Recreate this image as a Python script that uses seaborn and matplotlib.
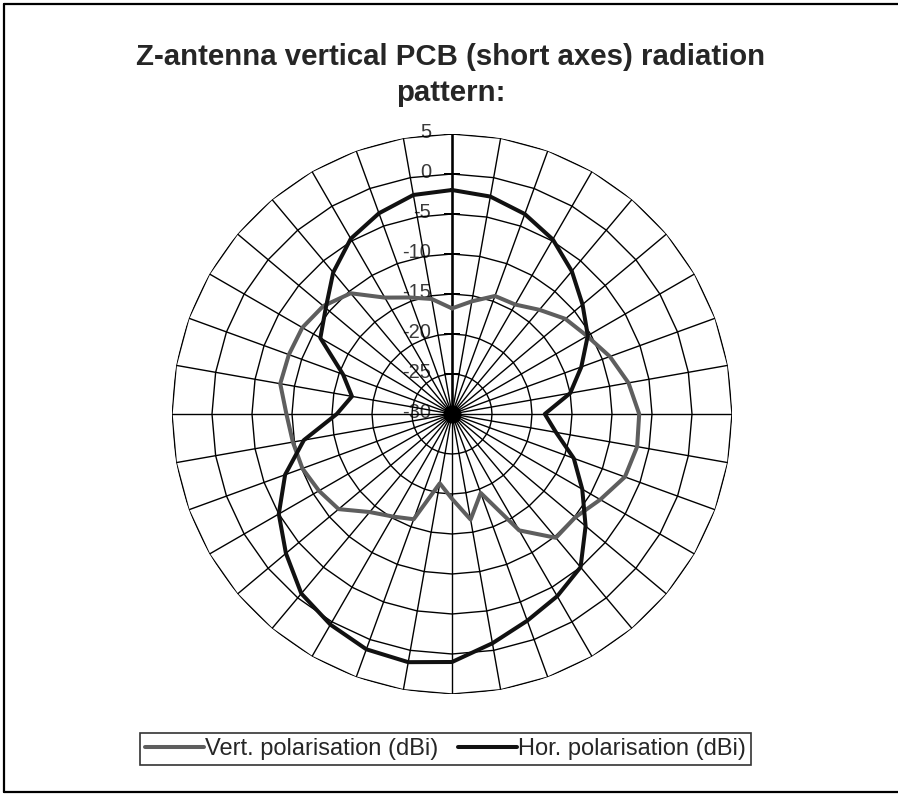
import numpy as np
import pandas as pd
import matplotlib.pyplot as plt
from matplotlib.lines import Line2D
import seaborn as sns

sns.set_style("white")
plt.rcParams['font.family'] = ['Liberation Sans', 'DejaVu Sans']

# Data (dBi every 10 deg, clockwise from top)
angles_deg = list(range(0, 360, 10))
vert_pol = [-16.8, -15.7, -14.3, -14.2, -13.0, -11.5, -10.5, -9.0, -7.6, -6.6,
            -6.5, -7.0, -8.6, -9.9, -9.8, -13.2, -19.5, -16.6, -19.4, -21.2,
            -16.0, -15.2, -14.0, -11.5, -10.8, -10.1, -9.8, -9.3, -8.2, -8.3,
            -8.4, -9.0, -10.3, -13.2, -14.5, -15.4]
hor_pol = [-2.0, -2.4, -3.4, -4.8, -6.7, -8.7, -10.4, -12.8, -15.0, -18.4,
           -16.8, -13.8, -11.2, -8.2, -5.0, -3.7, -2.5, -0.9, 1.0, 1.5,
           1.3, 0.4, -0.7, -2.9, -5.0, -7.8, -11.2, -15.6, -17.3, -15.5,
           -11.0, -9.4, -6.9, -4.7, -3.3, -2.2]
series_names = ['Vert. polarisation (dBi)', 'Hor. polarisation (dBi)']
r_ticks = [5, 0, -5, -10, -15, -20, -25, -30]

# long table, loops closed
theta = np.deg2rad(angles_deg + [360])
rows = []
for name, vals in zip(series_names, [vert_pol, hor_pol]):
    for t, v in zip(theta, vals + [vals[0]]):
        rows.append({'theta': t, 'dBi': v, 'series': name})
df = pd.DataFrame(rows)

fig = plt.figure(figsize=(8.98, 7.94), dpi=100)
ax = fig.add_axes([172/898, 100/794, 560/898, 560/794], projection='polar')
ax.set_theta_zero_location('N')
ax.set_theta_direction(-1)
ax.set_ylim(-30, 5)
ax.grid(False)
ax.spines['polar'].set_visible(False)
ax.set_xticks([])
ax.set_yticks([])
ax.patch.set_alpha(0)

# radar grid: polygon rings + spokes
for v in r_ticks[:-1]:
    ax.plot(theta, [v] * len(theta), color='black', lw=1.0, zorder=2)
for a in np.deg2rad(angles_deg):
    ax.plot([a, a], [-30, 5], color='black', lw=1.0, zorder=2)
ax.plot([0, 0], [-30, 5], color='black', lw=1.8, zorder=2)
ax.plot([0] * len(r_ticks), r_ticks, ls='none', marker='_', ms=11,
        mew=1.4, color='black', zorder=2)
ax.plot([0], [-30], marker='o', ms=12, color='black', zorder=2)

for v in r_ticks:
    ax.annotate(str(v), xy=(0, v), xytext=(-15, 1), textcoords='offset points',
                ha='right', va='center', fontsize=14.5, color='#3a3a3a', zorder=1)

palette = {series_names[0]: '#5e5e5e', series_names[1]: '#111111'}
sns.lineplot(data=df, x='theta', y='dBi', hue='series', palette=palette,
             sort=False, estimator=None, linewidth=2.9, ax=ax, legend=False,
             zorder=3)
ax.set_xlabel('')
ax.set_ylabel('')
ax.set_ylim(-30, 5)

# title
fig.text(451/898, 1 - 57/794, 'Z-antenna vertical PCB (short axes) radiation',
         ha='center', va='center', fontsize=21.2, fontweight='bold')
fig.text(451/898, 1 - 93/794, 'pattern:',
         ha='center', va='center', fontsize=21.2, fontweight='bold')

# legend
handles = [Line2D([], [], color=palette[n], lw=2.9) for n in series_names]
leg = fig.legend(handles, series_names, loc='center',
                 bbox_to_anchor=(445.5/898, 1 - 749/794), ncol=2,
                 frameon=True, fancybox=False, edgecolor='black', fontsize=17,
                 handlelength=2.5, handletextpad=0.05, columnspacing=0.8,
                 borderpad=0.22, borderaxespad=0)
leg.get_frame().set_linewidth(1.2)

# outer chart border
fig.add_artist(Line2D([4/898, 4/898], [1 - 4/794, 1 - 792/794], color='black', lw=1.6))
fig.add_artist(Line2D([4/898, 1], [1 - 4/794, 1 - 4/794], color='black', lw=1.6))
fig.add_artist(Line2D([4/898, 1], [1 - 792/794, 1 - 792/794], color='black', lw=1.6))

fig.savefig('out.png', dpi=100)
